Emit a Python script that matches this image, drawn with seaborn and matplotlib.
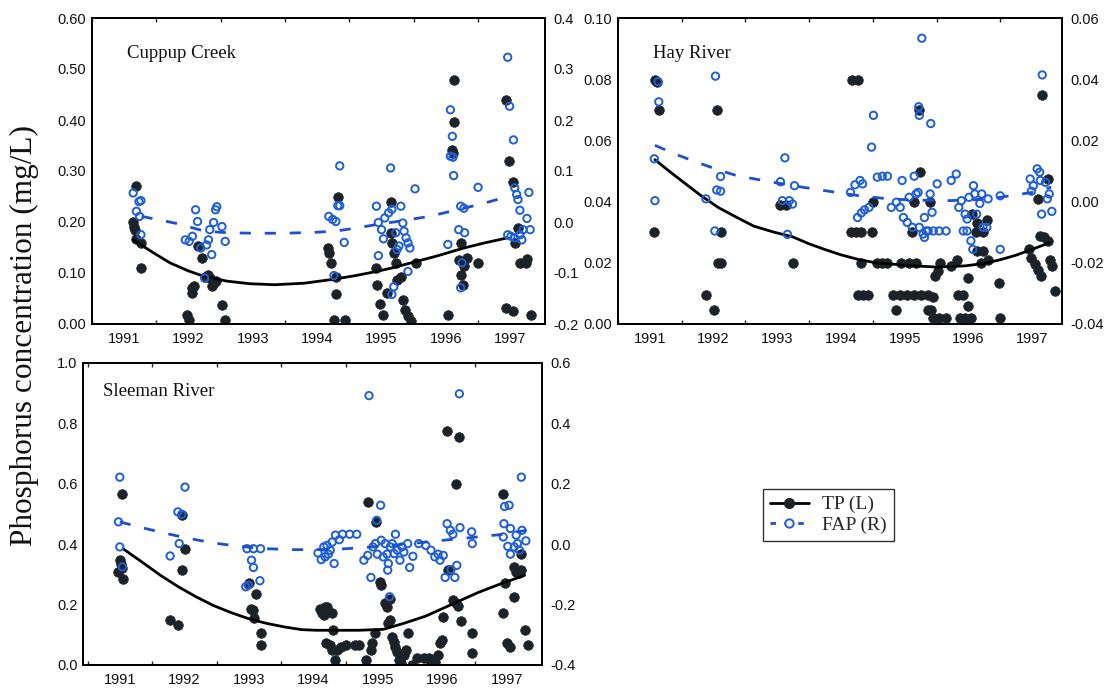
import numpy as np
import pandas as pd
import matplotlib
matplotlib.use("Agg")
import matplotlib.pyplot as plt
from matplotlib.lines import Line2D
from matplotlib.ticker import FormatStrFormatter, MultipleLocator
import seaborn as sns

# ---------------- Cuppup Creek ----------------
cc_tp_x = [1991.19, 1991.14, 1991.15, 1991.17, 1991.19, 1991.26, 1991.26,
           1991.98, 1992.01, 1992.06, 1992.06, 1992.08, 1992.14, 1992.21, 1992.25, 1992.31,
           1992.33, 1992.36, 1992.39, 1992.42, 1992.52, 1992.57,
           1994.17, 1994.18, 1994.21, 1994.32, 1994.29, 1994.26, 1994.43, 1994.29,
           1995.14, 1994.91, 1994.93, 1994.98, 1995.03, 1995.08, 1995.14, 1995.16, 1995.19,
           1995.22, 1995.24, 1995.30, 1995.33, 1995.36, 1995.41, 1995.46, 1995.53,
           1996.04, 1996.13, 1996.12, 1996.10, 1996.11, 1996.23, 1996.20, 1996.24, 1996.26,
           1996.28, 1996.33, 1996.50,
           1996.94, 1996.98, 1997.04, 1997.12, 1997.07, 1996.94, 1997.04, 1997.15, 1997.25,
           1997.26, 1997.33]
cc_tp_y = [0.27, 0.20, 0.19, 0.185, 0.167, 0.159, 0.11,
           0.018, 0.008, 0.06, 0.07, 0.074, 0.152, 0.129, 0.093, 0.097,
           0.09, 0.074, 0.08, 0.084, 0.038, 0.008,
           0.149, 0.139, 0.12, 0.249, 0.058, 0.007, 0.007, 0.093,
           0.24, 0.11, 0.077, 0.04, 0.018, 0.06, 0.178, 0.159, 0.139,
           0.12, 0.087, 0.093, 0.048, 0.028, 0.015, 0.005, 0.12,
           0.018, 0.479, 0.397, 0.342, 0.335, 0.159, 0.126, 0.097, 0.077,
           0.113, 0.129, 0.12,
           0.439, 0.319, 0.278, 0.188, 0.159, 0.031, 0.025, 0.12, 0.12,
           0.127, 0.018]
cc_fap_x = [1991.14, 1991.26, 1991.19, 1991.24, 1991.23, 1991.26,
            1991.95, 1992.01, 1992.06, 1992.11, 1992.14, 1992.19, 1992.25, 1992.28, 1992.31,
            1992.33, 1992.36, 1992.39, 1992.42, 1992.44, 1992.52, 1992.57,
            1994.18, 1994.24, 1994.29, 1994.32, 1994.35, 1994.35, 1994.26, 1994.42,
            1994.92, 1995.14, 1994.95, 1995.00, 1995.03, 1994.95, 1995.05, 1995.11, 1995.16,
            1995.19, 1995.16, 1995.22, 1995.24, 1995.27, 1995.30, 1995.33, 1995.35, 1995.38,
            1995.41, 1995.44, 1995.41, 1995.52,
            1996.07, 1996.10, 1996.11, 1996.07, 1996.12, 1996.03, 1996.20, 1996.23, 1996.28,
            1996.29, 1996.25, 1996.23, 1996.50,
            1996.96, 1996.99, 1997.05, 1997.07, 1997.10, 1997.12, 1997.15, 1997.26, 1997.29,
            1996.96, 1997.01, 1997.07, 1997.15, 1997.20, 1997.31, 1997.18]
cc_fap_y = [0.057, 0.042, 0.021, 0.011, 0.040, -0.025,
            -0.035, -0.038, -0.028, 0.024, 0.001, -0.051, -0.110, -0.045, -0.035,
            -0.015, -0.064, -0.001, 0.024, 0.030, -0.009, -0.038,
            0.011, 0.005, 0.001, 0.032, 0.032, 0.110, -0.105, -0.040,
            0.031, 0.106, -0.001, -0.015, -0.033, -0.066, 0.008, 0.018, 0.025,
            -0.127, -0.142, -0.021, -0.054, -0.047, 0.031, -0.002, -0.018, -0.031,
            -0.041, -0.051, -0.097, 0.065,
            0.220, 0.168, 0.127, 0.129, 0.091, -0.044, -0.015, 0.031, 0.027,
            -0.021, -0.080, -0.129, 0.068,
            0.323, 0.227, 0.161, 0.067, 0.054, 0.044, 0.023, 0.007, 0.058,
            -0.025, -0.028, -0.031, -0.025, -0.015, -0.015, -0.035]
cc_tp_trend_x = [1991.14, 1991.45, 1991.71, 1992.00, 1992.25, 1992.60, 1992.95, 1993.34,
                 1993.80, 1994.27, 1994.60, 1994.92, 1995.20, 1995.46, 1995.85, 1996.28,
                 1996.60, 1996.96]
cc_tp_trend_y = [0.165, 0.140, 0.120, 0.104, 0.093, 0.084, 0.079, 0.077,
                 0.080, 0.088, 0.095, 0.103, 0.111, 0.120, 0.133, 0.149,
                 0.159, 0.169]
cc_fap_trend_x = [1991.27, 1991.55, 1991.82, 1992.25, 1992.60, 1993.00, 1993.50, 1994.00,
                  1994.27, 1994.60, 1994.92, 1995.30, 1995.74, 1996.28, 1996.60, 1996.96]
cc_fap_trend_y = [0.011, 0.004, -0.003, -0.018, -0.021, -0.022, -0.022, -0.020,
                  -0.018, -0.012, -0.005, 0.002, 0.011, 0.027, 0.037, 0.050]

# ---------------- Hay River ----------------
hr_tp_x = [1991.08, 1991.14, 1991.07, 1991.11,
           1991.88, 1992.01, 1992.05, 1992.11, 1992.07, 1992.12,
           1993.05, 1993.13, 1993.24,
           1994.18, 1994.26, 1994.15, 1994.23, 1994.32, 1994.48, 1994.50, 1994.32,
           1994.26, 1994.34, 1994.43, 1994.57, 1994.65, 1994.73,
           1994.82, 1994.93, 1995.04, 1995.15, 1995.26, 1995.37, 1995.45, 1994.87, 1994.95,
           1995.07, 1995.18, 1995.23, 1995.24, 1995.12, 1995.15, 1995.40, 1995.37, 1995.42,
           1995.48, 1995.53, 1995.56, 1995.45, 1995.54, 1995.65, 1995.73, 1995.82,
           1995.84, 1995.92, 1995.87, 1995.95, 1996.04, 1996.00, 1995.99, 1996.06, 1996.14,
           1996.12, 1996.23, 1996.29, 1996.14, 1996.23, 1996.20, 1996.31, 1996.48, 1996.49,
           1996.95, 1996.98, 1997.04, 1997.09, 1997.14, 1997.16, 1997.09, 1997.12, 1997.18,
           1997.25, 1997.25, 1997.28, 1997.32, 1997.36]
hr_tp_y = [0.0797, 0.070, 0.030, 0.079,
           0.0096, 0.0047, 0.070, 0.030, 0.020, 0.020,
           0.039, 0.039, 0.020,
           0.0797, 0.0797, 0.030, 0.030, 0.030, 0.030, 0.040, 0.020,
           0.0096, 0.0096, 0.0096, 0.020, 0.020, 0.020,
           0.0096, 0.0096, 0.0096, 0.0096, 0.0096, 0.0096, 0.0088, 0.0047, 0.020,
           0.020, 0.020, 0.070, 0.0496, 0.030, 0.040, 0.040, 0.0047, 0.0047,
           0.0157, 0.0173, 0.020, 0.002, 0.002, 0.002, 0.019, 0.021,
           0.0096, 0.0096, 0.002, 0.002, 0.002, 0.015, 0.0058, 0.036, 0.033,
           0.030, 0.030, 0.034, 0.024, 0.024, 0.020, 0.021, 0.0135, 0.002,
           0.0244, 0.0217, 0.0195, 0.0178, 0.0157, 0.0748, 0.0409, 0.0288, 0.0283,
           0.027, 0.0474, 0.021, 0.019, 0.0107]
hr_fap_x = [1991.07, 1991.08, 1991.13, 1991.14,
            1991.88, 1992.02, 1992.03, 1992.05, 1992.11, 1992.11,
            1993.12, 1993.05, 1993.16, 1993.08, 1993.19, 1993.24, 1993.27,
            1994.15, 1994.22, 1994.30, 1994.34, 1994.26, 1994.32, 1994.37, 1994.44,
            1994.48, 1994.51, 1994.57, 1994.65, 1994.73,
            1994.79, 1994.87, 1994.93, 1994.96, 1994.98, 1995.04, 1995.07, 1995.12, 1995.15,
            1995.18, 1995.21, 1995.22, 1995.23, 1995.41, 1995.23, 1995.29, 1995.31, 1995.34,
            1995.37, 1995.45, 1995.54, 1995.65, 1995.31, 1995.43, 1995.51, 1995.40, 1995.27,
            1995.73, 1995.81,
            1995.85, 1995.89, 1995.92, 1995.95, 1995.98, 1995.98, 1996.01, 1996.04, 1996.07,
            1996.08, 1996.10, 1996.13, 1996.18, 1996.21, 1996.23, 1996.29, 1996.31, 1996.50,
            1996.50,
            1996.97, 1996.99, 1997.02, 1997.08, 1997.12, 1997.16, 1997.13, 1997.15, 1997.21,
            1997.24, 1997.27, 1997.31]
hr_fap_y = [0.014, 0.0003, 0.0392, 0.0326,
            0.0009, -0.0096, 0.041, 0.0038, 0.0034, 0.0082,
            0.0143, 0.0065, -0.0107, 0.0003, 0.0003, -0.0008, 0.0052,
            0.003, 0.0055, 0.0069, 0.0058, -0.0052, -0.0037, -0.0027, -0.0019,
            0.0178, 0.0282, 0.008, 0.0083, 0.0083,
            -0.0019, -0.0002, -0.0019, 0.0069, -0.0052, -0.0068, 0.0014, -0.0084, 0.0083,
            0.0025, 0.003, 0.031, 0.0282, 0.0255, -0.0084, -0.0106, -0.0052, -0.0096,
            -0.0096, -0.0096, -0.0096, -0.0096, -0.0117, -0.0035, 0.0058, 0.0025, 0.0534,
            0.0069, 0.009,
            -0.0019, 0.0003, -0.0096, -0.0041, -0.0096, -0.0057, 0.0014, -0.0128, -0.0156,
            0.0052, 0.0025, -0.0041, -0.0006, 0.0025, -0.0084, -0.0084, 0.0009, -0.0156,
            0.0019,
            0.0074, 0.0034, 0.0052, 0.0107, 0.0096, 0.0414, 0.0069, -0.0041, 0.0063,
            0.0009, 0.0025, -0.0032]
hr_tp_trend_x = [1991.08, 1991.30, 1991.53, 1991.80, 1992.08, 1992.35, 1992.63, 1992.95,
                 1993.24, 1993.50, 1993.74, 1994.00, 1994.29, 1994.55, 1994.84, 1995.15,
                 1995.51, 1995.95, 1996.25, 1996.50, 1996.75, 1997.00, 1997.28]
hr_tp_trend_y = [0.0537, 0.0500, 0.0463, 0.0420, 0.0380, 0.0350, 0.0320, 0.0300,
                 0.0285, 0.0262, 0.0244, 0.0226, 0.0210, 0.0200, 0.0195, 0.0190,
                 0.0186, 0.0190, 0.0198, 0.0210, 0.0225, 0.0244, 0.0266]
hr_fap_trend_x = [1991.08, 1991.40, 1991.80, 1992.10, 1992.36, 1992.70, 1993.02, 1993.40,
                  1993.74, 1994.00, 1994.29, 1994.70, 1995.12, 1995.67, 1996.10, 1996.50,
                  1997.00, 1997.30]
hr_fap_trend_y = [0.0184, 0.0155, 0.0124, 0.0102, 0.0085, 0.0072, 0.0060, 0.0047,
                  0.0036, 0.0028, 0.0019, 0.0010, 0.0005, 0.0003, 0.0006, 0.0014,
                  0.0030, 0.0047]

# ---------------- Sleeman River ----------------
sr_tp_x = [1991.03, 1991.00, 1991.02, 1990.97, 1991.05, 1991.03,
           1991.78, 1991.90, 1991.96, 1991.97, 1992.01,
           1993.00, 1993.03, 1993.07, 1993.08, 1993.11, 1993.18, 1993.19,
           1994.10, 1994.13, 1994.16, 1994.18, 1994.21, 1994.29, 1994.30, 1994.19, 1994.25,
           1994.29, 1994.34, 1994.37, 1994.42, 1994.51, 1994.64, 1994.70, 1994.81, 1994.85,
           1994.89, 1994.91, 1994.95, 1994.97,
           1995.03, 1995.05, 1995.11, 1995.14, 1995.16, 1995.19, 1995.18, 1995.22, 1995.25,
           1995.27, 1995.30, 1995.33, 1995.36, 1995.41, 1995.44, 1995.47, 1995.52, 1995.60,
           1995.71, 1995.79, 1995.82, 1995.88, 1995.93, 1995.96, 1995.99,
           1996.01, 1996.07, 1996.26, 1996.21, 1996.08, 1996.16, 1996.21, 1996.24, 1996.28,
           1996.45, 1996.45,
           1996.93, 1996.94, 1996.97, 1997.00, 1997.05, 1997.11, 1997.14, 1997.18, 1997.11,
           1997.21, 1997.22, 1997.27, 1997.32]
sr_tp_y = [0.567, 0.347, 0.336, 0.308, 0.286, 0.320,
           0.149, 0.132, 0.496, 0.314, 0.385,
           0.270, 0.187, 0.182, 0.154, 0.235, 0.105, 0.066,
           0.187, 0.171, 0.165, 0.193, 0.193, 0.171, 0.116, 0.072, 0.066,
           0.050, 0.017, 0.050, 0.061, 0.066, 0.066, 0.066, 0.017, 0.540,
           0.050, 0.072, 0.105, 0.474,
           0.275, 0.264, 0.204, 0.193, 0.138, 0.149, 0.220, 0.094, 0.077,
           0.061, 0.044, 0.017, 0.005, 0.033, 0.050, 0.105, 0.000, 0.022,
           0.022, 0.022, 0.005, 0.011, 0.033, 0.072, 0.083,
           0.160, 0.776, 0.754, 0.598, 0.314, 0.215, 0.204, 0.195, 0.146,
           0.105, 0.041,
           0.567, 0.173, 0.270, 0.072, 0.061, 0.325, 0.308, 0.303, 0.226,
           0.314, 0.367, 0.116, 0.066]
sr_fap_x = [1991.00, 1990.98, 1991.00, 1991.04,
            1991.78, 1991.92, 1991.90, 1991.96, 1992.01,
            1992.97, 1993.07, 1993.18, 1993.04, 1993.07, 1992.95, 1992.99, 1993.17,
            1994.07, 1994.12, 1994.16, 1994.21, 1994.23, 1994.29, 1994.32, 1994.34, 1994.40,
            1994.45, 1994.56, 1994.67, 1994.26, 1994.18,
            1994.78, 1994.84, 1994.86, 1994.89, 1994.92, 1994.96, 1994.98, 1995.04, 1994.99,
            1995.05, 1995.08, 1995.11, 1995.14, 1995.15, 1995.16, 1995.18, 1995.19, 1995.22,
            1995.25, 1995.27, 1995.30, 1995.34, 1995.37, 1995.40, 1995.46, 1995.49, 1995.54,
            1995.63, 1995.74,
            1995.82, 1995.88, 1995.93, 1995.96, 1996.01, 1996.04, 1996.07, 1996.12, 1996.16,
            1996.19, 1996.22, 1996.26, 1996.27, 1996.13, 1996.45, 1996.46,
            1996.95, 1996.96, 1997.03, 1996.94, 1997.01, 1997.05, 1997.11, 1997.14, 1997.16,
            1997.19, 1997.22, 1997.23, 1997.29, 1997.05]
sr_fap_y = [0.222, 0.074, -0.009, -0.075,
            -0.039, 0.002, 0.107, 0.099, 0.189,
            -0.015, -0.015, -0.015, -0.053, -0.077, -0.141, -0.136, -0.121,
            -0.029, -0.051, -0.009, -0.004, -0.033, 0.007, -0.064, 0.030, 0.015,
            0.033, 0.033, 0.033, -0.020, -0.042,
            -0.053, -0.037, 0.492, -0.110, -0.009, 0.002, 0.079, 0.129, -0.033,
            0.013, -0.042, 0.002, -0.033, -0.086, -0.064, -0.174, -0.009, 0.002,
            -0.031, 0.033, -0.020, -0.053, -0.009, -0.026, 0.002, -0.077, -0.040,
            0.002, -0.004,
            -0.020, -0.042, -0.033, -0.053, -0.037, -0.110, 0.068, 0.046, 0.033,
            -0.110, -0.070, 0.498, 0.055, -0.084, 0.041, 0.002,
            0.068, 0.125, 0.129, 0.024, -0.007, 0.052, -0.009, 0.030, 0.002,
            -0.020, 0.222, 0.046, 0.011, -0.033]
sr_tp_trend_x = [1991.05, 1991.35, 1991.63, 1991.90, 1992.18, 1992.45, 1992.73, 1993.00,
                 1993.27, 1993.55, 1993.82, 1994.05, 1994.29, 1994.70, 1995.08, 1995.40,
                 1995.74, 1996.00, 1996.29, 1996.55, 1996.84, 1997.05, 1997.27]
sr_tp_trend_y = [0.385, 0.340, 0.297, 0.260, 0.226, 0.197, 0.173, 0.153,
                 0.138, 0.126, 0.117, 0.115, 0.115, 0.115, 0.118, 0.138,
                 0.162, 0.187, 0.215, 0.240, 0.264, 0.280, 0.297]
sr_fap_trend_x = [1991.00, 1991.30, 1991.63, 1992.00, 1992.45, 1992.85, 1993.27, 1993.70,
                  1994.10, 1994.50, 1994.92, 1995.30, 1995.74, 1996.10, 1996.45, 1996.95,
                  1997.30]
sr_fap_trend_y = [0.074, 0.057, 0.040, 0.022, 0.004, -0.007, -0.015, -0.018,
                  -0.018, -0.015, -0.009, -0.002, 0.007, 0.015, 0.022, 0.033,
                  0.046]

years = [1991, 1992, 1993, 1994, 1995, 1996, 1997]
site_names = ["Cuppup Creek", "Hay River", "Sleeman River"]
legend_labels = ["TP (L)", "FAP (R)"]
y_label = "Phosphorus concentration (mg/L)"

# ---------------- styling ----------------
sns.set_theme(style="ticks")
plt.rcParams["font.family"] = ["Liberation Sans", "DejaVu Sans"]
plt.rcParams["axes.linewidth"] = 1.4

W, H = 1109, 688
fig = plt.figure(figsize=(W / 100, H / 100), dpi=100)
fig.patch.set_facecolor("white")

TP_COLOR = "#1b2328"
FAP_COLOR = "#1f5fd8"
TREND_BLUE = "#1d4fd0"
SERIF = ["Liberation Serif", "DejaVu Serif"]


def px_axes(l, r, t, b):
    return fig.add_axes([l / W, 1 - b / H, (r - l) / W, (b - t) / H])


panels = [
    dict(box=(92, 545, 18, 324), xlim=(1990.52, 1997.54), yl=(0, 0.6), yr=(-0.2, 0.4),
         lstep=0.1, rstep=0.1, lfmt="%.2f", rfmt="%.1f",
         tp=(cc_tp_x, cc_tp_y), fap=(cc_fap_x, cc_fap_y),
         tpt=(cc_tp_trend_x, cc_tp_trend_y), fapt=(cc_fap_trend_x, cc_fap_trend_y),
         name=site_names[0], tpos=(0.077, 0.885)),
    dict(box=(618, 1062, 18, 324), xlim=(1990.50, 1997.47), yl=(0, 0.1), yr=(-0.04, 0.06),
         lstep=0.02, rstep=0.02, lfmt="%.2f", rfmt="%.2f",
         tp=(hr_tp_x, hr_tp_y), fap=(hr_fap_x, hr_fap_y),
         tpt=(hr_tp_trend_x, hr_tp_trend_y), fapt=(hr_fap_trend_x, hr_fap_trend_y),
         name=site_names[1], tpos=(0.079, 0.885)),
    dict(box=(83, 542, 363, 665), xlim=(1990.43, 1997.54), yl=(0, 1.0), yr=(-0.4, 0.6),
         lstep=0.2, rstep=0.2, lfmt="%.1f", rfmt="%.1f",
         tp=(sr_tp_x, sr_tp_y), fap=(sr_fap_x, sr_fap_y),
         tpt=(sr_tp_trend_x, sr_tp_trend_y), fapt=(sr_fap_trend_x, sr_fap_trend_y),
         name=site_names[2], tpos=(0.044, 0.905)),
]

for p in panels:
    ax = px_axes(*p["box"])
    ax2 = ax.twinx()
    ax.set_facecolor("white")

    tp_df = pd.DataFrame({"date": p["tp"][0], "value": p["tp"][1]})
    fap_df = pd.DataFrame({"date": p["fap"][0], "value": p["fap"][1]})
    tpt_df = pd.DataFrame({"date": p["tpt"][0], "value": p["tpt"][1]})
    fapt_df = pd.DataFrame({"date": p["fapt"][0], "value": p["fapt"][1]})

    sns.scatterplot(data=tp_df, x="date", y="value", ax=ax, s=48, color=TP_COLOR,
                    edgecolor=TP_COLOR, linewidth=0.5, zorder=3, legend=False)
    sns.lineplot(data=tpt_df, x="date", y="value", ax=ax, color="black", lw=2.0,
                 sort=False, estimator=None, zorder=4, legend=False)
    sns.scatterplot(data=fap_df, x="date", y="value", ax=ax2, s=28, facecolor="none",
                    edgecolor=FAP_COLOR, linewidth=1.4, zorder=3, legend=False)
    sns.lineplot(data=fapt_df, x="date", y="value", ax=ax2, color=TREND_BLUE, lw=2.0,
                 sort=False, estimator=None, zorder=4, legend=False,
                 dashes=False)
    ax2.lines[-1].set_linestyle((0, (4, 5)))

    ax.set_xlim(*p["xlim"])
    ax.set_xticks(years)
    ax.set_xticklabels([str(y) for y in years])
    ax.set_xticks([y + 0.5 for y in years[:-1]] + [1990.5], minor=True)
    ax.yaxis.set_major_locator(MultipleLocator(p["lstep"]))
    ax2.yaxis.set_major_locator(MultipleLocator(p["rstep"]))
    ax.yaxis.set_major_formatter(FormatStrFormatter(p["lfmt"]))
    ax2.yaxis.set_major_formatter(FormatStrFormatter(p["rfmt"]))
    ax.set_ylim(*p["yl"])
    ax2.set_ylim(*p["yr"])

    ax.tick_params(axis="x", which="major", length=0, labelsize=10.5, pad=6, colors="#111111")
    ax.tick_params(axis="x", which="minor", direction="in", length=3, width=1.0,
                   top=True, bottom=True)
    ax.tick_params(axis="y", which="major", length=0, labelsize=10.5, pad=4, colors="#111111")
    ax2.tick_params(axis="y", which="major", length=0, labelsize=10.5, pad=6, colors="#111111")
    ax.set_xlabel("")
    ax.set_ylabel("")
    ax2.set_ylabel("")
    for sp in list(ax.spines.values()) + list(ax2.spines.values()):
        sp.set_visible(True)
        sp.set_color("black")
        sp.set_linewidth(1.4)

    ax.text(p["tpos"][0], p["tpos"][1], p["name"], transform=ax.transAxes,
            family=SERIF, fontsize=13.5, color="#111111",
            va="center", ha="left", zorder=6)

fig.text(24 / W, 1 - 336 / H, y_label, rotation=90, ha="center", va="center",
         family=SERIF, fontsize=22.5, color="#111111")

handles = [
    Line2D([], [], color="black", lw=2.0, marker="o", markersize=7,
           markerfacecolor=TP_COLOR, markeredgecolor=TP_COLOR),
    Line2D([], [], color=TREND_BLUE, lw=2.0, linestyle=(0, (2, 3)), marker="o", markersize=6,
           markerfacecolor="white", markeredgecolor=FAP_COLOR, markeredgewidth=1.4),
]
leg = fig.legend(handles, legend_labels, loc="upper left",
                 bbox_to_anchor=(763 / W, 1 - 489 / H),
                 prop={"family": SERIF, "size": 14},
                 frameon=True, fancybox=False, edgecolor="black", handlelength=2.0,
                 borderpad=0.35, labelspacing=0.15, handletextpad=0.7, borderaxespad=0)
leg.get_frame().set_linewidth(1.0)

fig.savefig("out.png", dpi=100, facecolor="white")
